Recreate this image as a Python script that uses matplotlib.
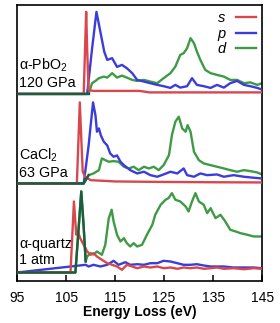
import matplotlib
matplotlib.use("Agg")
import matplotlib.pyplot as plt

plt.rcParams["font.family"] = ["Liberation Sans", "DejaVu Sans"]
plt.rcParams["mathtext.fontset"] = "custom"
plt.rcParams["mathtext.rm"] = "Liberation Sans"
plt.rcParams["mathtext.it"] = "Liberation Sans:italic"

RED = "#d9474c"
BLUE = "#3b3ddb"
GREEN = "#3f9a45"
DARK = "#1b5e3c"

# --- alpha-PbO2, 120 GPa (top) ---
pb_s_e = [95, 108.6, 108.9, 109.1, 109.3, 109.6, 110.5, 115, 120, 122, 130, 140, 145]
pb_s_i = [0, 0, 50, 82, 45, 4, 3, 3, 3, 1.5, 1.5, 1.5, 1.5]
pb_p_e = [95, 109.3, 110.3, 111.2, 112.0, 112.8, 113.4, 114.4, 115.4, 116.4, 117.4, 118.5,
          119.5, 120.9, 122.2, 123.6, 124.9, 126.3, 127.3, 128.3, 129.7, 130.7, 131.7,
          133.1, 134.5, 135.8, 137.2, 138.5, 139.9, 141.3, 142.6, 144, 145]
pb_p_i = [0, 0, 45, 82, 62, 42, 34, 35.7, 27, 29, 25.7, 20.7,
          14, 12.3, 10.7, 9, 7.7, 6, 9, 6.3, 7.7, 15.7, 9,
          7.7, 6, 9, 6.3, 10.7, 13, 9, 7.7, 6, 4.3]
pb_d_e = [95, 109.6, 110.3, 111.0, 111.7, 112.7, 113.4, 114.4, 115.4, 116.4, 117.4, 118.5,
          119.5, 120.9, 122.2, 123.6, 124.9, 126.3, 127.3, 128.3, 129.0, 129.7, 130.4,
          131.1, 131.7, 132.4, 133.4, 134.5, 135.8, 137.2, 138.5, 139.9, 141.3, 142.6,
          144, 145]
pb_d_i = [0, 0, 10.7, 13, 15.7, 17.3, 16.3, 20.7, 16.3, 18.3, 16.3, 14,
          13, 14, 12.3, 10.7, 15.7, 20.7, 27.3, 39, 40.7, 45.7, 55.7,
          50.7, 42.3, 34, 24, 20.7, 19, 17.3, 14, 14, 10.7, 11.5,
          9, 10.7]

# --- CaCl2, 63 GPa (middle) ---
ca_s_e = [95, 107.2, 107.5, 107.8, 108.1, 108.4, 108.9, 110.0, 115, 125, 135, 145]
ca_s_i = [0, 0, 40, 81, 45, 11.7, 6.7, 3.3, 2, 1.5, 1.2, 1]
ca_p_e = [95, 108.6, 109.6, 110.5, 111.0, 111.3, 111.7, 112.1, 112.7, 113.4, 114.0, 114.7,
          115.4, 116.1, 116.8, 118.1, 119.5, 120.9, 122.2, 123.6, 124.9, 126.3, 127.7,
          129.0, 129.7, 131.1, 132.4, 133.8, 135.8, 137.2, 139.2, 141.3, 143.3, 145]
ca_p_i = [0, 0, 38, 81, 68, 51.7, 55, 48, 41.7, 38, 30, 26.7,
          28, 21.7, 18.3, 13.3, 10, 11.7, 8.3, 6.7, 9, 11.7, 10,
          15, 8.3, 6.7, 10, 8.3, 9, 6.7, 8.3, 6.7, 5.7, 5]
ca_d_e = [95, 108.6, 109.6, 110.6, 111.7, 112.3, 113.0, 113.7, 114.7, 115.7, 116.8, 117.8,
          118.8, 119.8, 120.9, 121.9, 122.9, 123.9, 124.9, 126.0, 126.6, 127.3, 128.0,
          128.7, 129.4, 129.8, 130.4, 131.1, 132.1, 133.1, 134.5, 135.8, 137.2, 138.5,
          139.9, 141.3, 142.6, 144, 145]
ca_d_i = [0, 0, 8.3, 10, 13.3, 25, 23.3, 21.7, 22.3, 21.7, 16.7, 15,
          16.7, 13.3, 16.7, 15, 16.7, 13.3, 18.3, 28.3, 48.3, 61.7, 66.7,
          55, 51.7, 58.3, 51.7, 31.7, 23.3, 20, 18.3, 16.7, 15, 13.3,
          11.7, 13.3, 12.3, 11, 9]

# --- alpha-quartz, 1 atm (bottom) ---
qz_s_e = [95, 105.9, 106.3, 106.6, 106.9, 107.1, 107.4, 107.9, 108.6, 109.3, 110.0, 110.6,
          111.3, 112.3, 113.4, 114.4, 115.4, 116.4, 117.4, 118.5, 119.5, 120.9, 122.2,
          123.6, 124.9, 126.3, 127.7, 129.0, 130.4, 131.7, 133.1, 134.5, 135.8, 137.2,
          139.2, 141.3, 143.3, 145]
qz_s_i = [0, 0, 40, 71, 50, 37.7, 41, 34, 27.7, 21, 17.7, 19.3,
          16, 12.7, 9.3, 7.7, 6, 2.7, 7.7, 6, 4.3, 6, 5,
          6, 4.3, 5, 3.7, 5, 4.3, 5, 3.7, 4.3, 5, 3.7,
          4.3, 3.3, 4.3, 3.7]
qz_p_e = [95, 109.0, 109.6, 110.6, 112.0, 113.4, 114.7, 115.7, 117.1, 118.1, 119.5, 120.9,
          122.2, 123.6, 124.9, 126.3, 127.7, 129.0, 130.4, 131.7, 133.1, 134.5, 135.8,
          137.2, 139.2, 141.3, 143.3, 145]
qz_p_i = [0, 7.7, 6, 7.7, 6, 7.7, 11.7, 7.7, 10.3, 7.7, 8.3, 7.7,
          9.3, 9.3, 11.7, 11, 9.3, 7.7, 7.7, 8.3, 7, 6, 6,
          6, 5, 5, 5, 4.3]
qz_d_e = [95, 106.9, 107.5, 108.1, 108.6, 109.0, 109.3, 110.0, 110.6, 111.3, 112.3, 113.0,
          113.7, 114.3, 114.7, 115.4, 116.1, 116.8, 117.4, 118.1, 118.8, 119.5, 120.5,
          121.5, 122.6, 123.2, 124.3, 125.3, 125.9, 126.6, 127.3, 128.3, 129.4, 130.0,
          130.7, 131.4, 132.1, 133.1, 133.8, 134.5, 135.5, 136.5, 137.5, 138.5, 139.6,
          140.6, 142.0, 143.3, 145]
qz_d_i = [0, 0, 40, 81, 45, 11, 16, 19.3, 18, 21, 17.7, 27.7,
          54, 62.7, 51, 37.7, 31, 34.3, 29.3, 26, 29.3, 26, 27.7,
          37.7, 47.7, 57.7, 67.7, 72.7, 74.3, 79.3, 72.7, 71, 66, 61,
          71, 79.3, 71, 67.7, 59.3, 64.3, 54.3, 57.7, 51, 42.7, 41,
          39.3, 37.7, 36, 36]

panels = [
    ("α-PbO$_2$\n120 GPa", 187, 110.0,
     (pb_s_e, pb_s_i), (pb_p_e, pb_p_i), (pb_d_e, pb_d_i)),
    ("CaCl$_2$\n63 GPa", 97.5, 109.6,
     (ca_s_e, ca_s_i), (ca_p_e, ca_p_i), (ca_d_e, ca_d_i)),
    ("α-quartz\n1 atm", 8.5, 109.1,
     (qz_s_e, qz_s_i), (qz_p_e, qz_p_i), (qz_d_e, qz_d_i)),
]

fig = plt.figure(figsize=(2.80, 3.23), dpi=100)
ax = fig.add_axes([0.061, 0.130, 0.875, 0.855])

lw = 1.7
for k, (label, off, cut, s, p, d) in enumerate(panels):
    ax.plot(d[0], [v + off for v in d[1]], color=GREEN, lw=lw,
            label="d" if k == 0 else None, zorder=2)
    ax.plot(p[0], [v + off for v in p[1]], color=BLUE, lw=lw,
            label="p" if k == 0 else None, zorder=3)
    ax.plot(s[0], [v + off for v in s[1]], color=RED, lw=lw,
            label="s" if k == 0 else None, zorder=4)
    de = [e for e in d[0] if e <= cut]
    di = [v + off for e, v in zip(d[0], d[1]) if e <= cut]
    ax.plot(de, di, color=DARK, lw=lw, zorder=5)
    ax.text(95.4, off + 20.5, label, fontsize=10.3, va="center", ha="left",
            linespacing=1.2)

handles, labels = ax.get_legend_handles_labels()
order = [2, 1, 0]
leg = ax.legend([handles[i] for i in order], [labels[i] for i in order],
                loc="upper right", frameon=False, markerfirst=False,
                handlelength=1.35, handletextpad=0.7, labelspacing=0.1,
                borderaxespad=0.05, prop={"style": "italic", "size": 10.5})

ax.set_xlim(95, 145)
ax.set_ylim(0, 276)
ax.set_xticks([95, 105, 115, 125, 135, 145])
ax.tick_params(axis="x", direction="in", length=4.5, width=1.1, labelsize=10, pad=7)
ax.set_yticks([])
for sp in ax.spines.values():
    sp.set_linewidth(1.2)
ax.set_xlabel("Energy Loss (eV)", fontsize=10, fontweight="bold", labelpad=0)

fig.savefig("out.png", dpi=100)
